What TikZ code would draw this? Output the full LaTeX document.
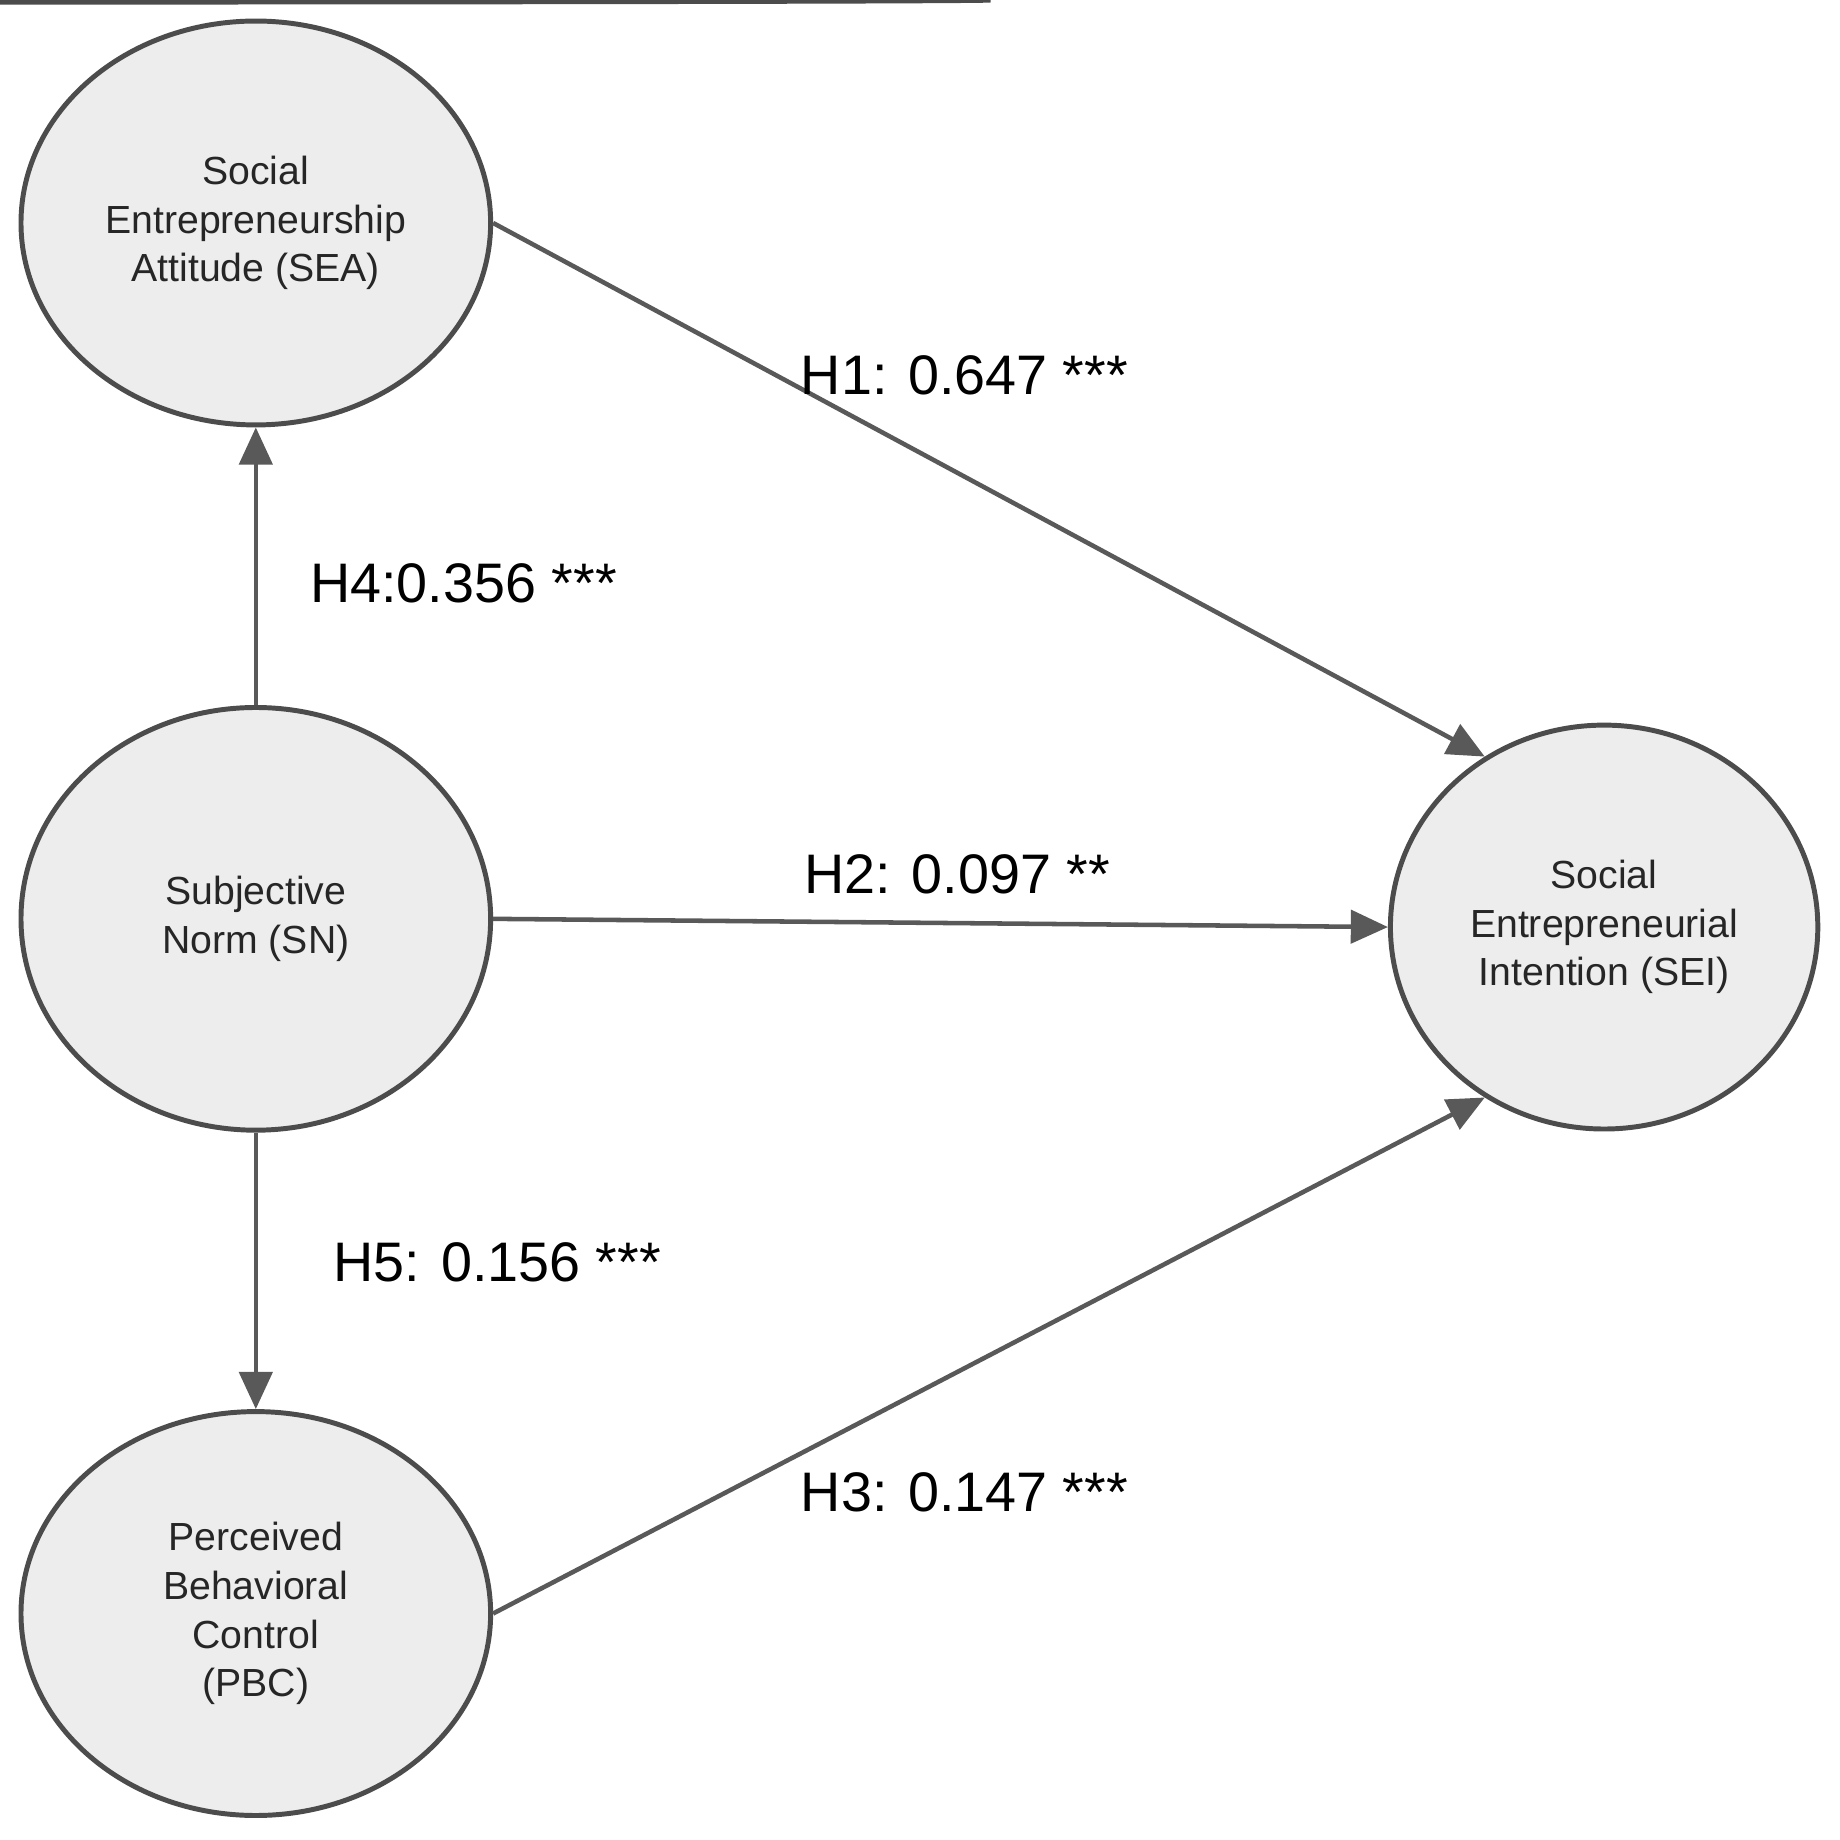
\documentclass[tikz,border=0pt]{standalone}
\usepackage{fontspec}
\setmainfont{Liberation Sans}
\usetikzlibrary{shapes.geometric,arrows.meta}
\begin{document}
\begin{tikzpicture}[x=0.01cm,y=-0.01cm,
  cons/.style={ellipse,draw=black!70,line width=1.2pt,fill=black!7,align=center,font=\fontsize{9.5pt}{11.8pt}\selectfont,text=black!85},
  conn/.style={draw=black!65,line width=1.1pt,-{Triangle[length=9pt,width=8pt]}},
  lab/.style={font=\fontsize{13.5pt}{15pt}\selectfont,text=black}]
\useasboundingbox (0,0) rectangle (1568,1568);
\node[cons,minimum width=400\pgflinewidth,inner sep=0] at (0,0) {};
\node[cons,minimum width=4cm,minimum height=3.44cm] (sea) at (218,190) {Social\\Entrepreneurship\\Attitude (SEA)};
\node[cons,minimum width=4cm,minimum height=3.6cm] (sn) at (218,783) {Subjective\\Norm (SN)};
\node[cons,minimum width=4cm,minimum height=3.44cm] (pbc) at (218,1375) {Perceived\\Behavioral\\Control\\(PBC)};
\node[cons,minimum width=3.64cm,minimum height=3.44cm] (sei) at (1367,790) {Social\\Entrepreneurial\\Intention (SEI)};
\draw[conn] (sea.east) -- (sei.125);
\draw[conn] (sn.east) -- (sei.west);
\draw[conn] (pbc.east) -- (sei.235);
\draw[conn] (sn.north) -- (sea.south);
\draw[conn] (sn.south) -- (pbc.north);
\node[lab,anchor=west] (h1) at (670,320) {H1: 0.647 ***};
\node[lab,anchor=west] (h2) at (673,745) {H2: 0.097 **};
\node[lab,anchor=west] (h3) at (670,1272) {H3: 0.147 ***};
\node[lab,anchor=west] (h4) at (252,497) {H4:0.356 ***};
\node[lab,anchor=west] (h5) at (272,1076) {H5: 0.156 ***};
\end{tikzpicture}
\end{document}
